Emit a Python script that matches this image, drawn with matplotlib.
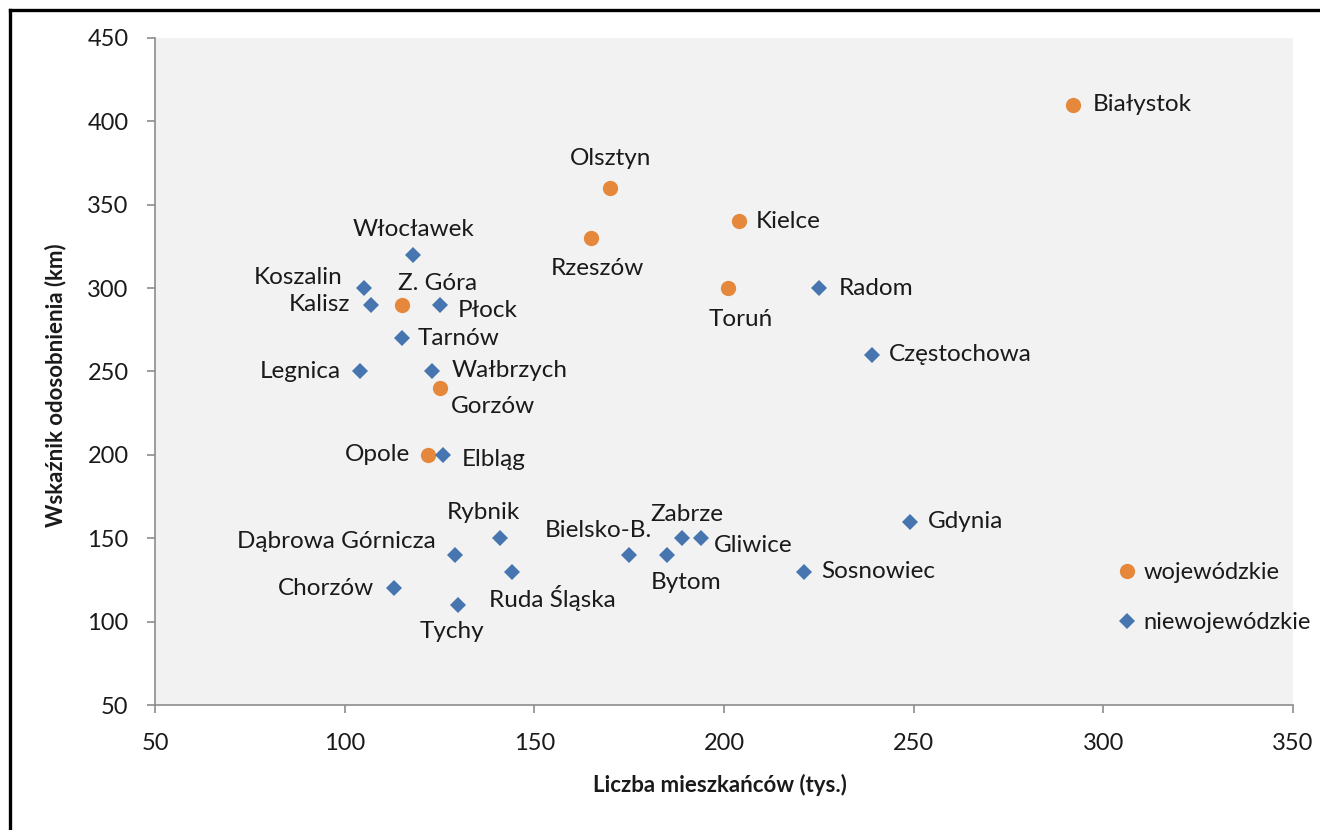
import matplotlib
matplotlib.use("Agg")
import matplotlib.pyplot as plt
from matplotlib.lines import Line2D

# miasta wojewódzkie
woj_names = ['Białystok', 'Olsztyn', 'Kielce', 'Rzeszów', 'Toruń', 'Z. Góra', 'Gorzów', 'Opole']
woj_pop = [292, 170, 204, 165, 201, 115, 125, 122]
woj_idx = [410, 360, 340, 330, 300, 290, 240, 200]

# miasta niewojewódzkie
niewoj_names = ['Włocławek', 'Koszalin', 'Kalisz', 'Płock', 'Tarnów', 'Legnica', 'Wałbrzych',
                'Elbląg', 'Rybnik', 'Dąbrowa Górnicza', 'Ruda Śląska', 'Chorzów', 'Tychy',
                'Bielsko-B.', 'Bytom', 'Zabrze', 'Gliwice', 'Sosnowiec', 'Gdynia', 'Radom',
                'Częstochowa']
niewoj_pop = [118, 105, 107, 125, 115, 104, 123, 126, 141, 129, 144, 113, 130,
              175, 185, 189, 194, 221, 249, 225, 239]
niewoj_idx = [320, 300, 290, 290, 270, 250, 250, 200, 150, 140, 130, 120, 110,
              140, 140, 150, 150, 130, 160, 300, 260]

xticks = [50, 100, 150, 200, 250, 300, 350]
yticks = [50, 100, 150, 200, 250, 300, 350, 400, 450]

# polozenie podpisow (dx, dy w pikselach, wyrownanie)
lab_pos = {
    'Białystok': (20, 0, 'left'), 'Olsztyn': (0, 30, 'center'), 'Kielce': (17, 0, 'left'),
    'Rzeszów': (6, -30, 'center'), 'Toruń': (13, -31, 'center'), 'Z. Góra': (36, 21, 'center'),
    'Gorzów': (53, -18, 'center'), 'Opole': (-18, 0, 'right'),
    'Włocławek': (1, 25, 'center'), 'Koszalin': (-21, 11, 'right'), 'Kalisz': (-21, 0, 'right'),
    'Płock': (18, -6, 'left'), 'Tarnów': (16, 0, 'left'), 'Legnica': (-19, 0, 'right'),
    'Wałbrzych': (20, 1, 'left'), 'Elbląg': (18, -5, 'left'), 'Rybnik': (-17, 26, 'center'),
    'Dąbrowa Górnicza': (-19, 13, 'right'), 'Ruda Śląska': (41, -26, 'center'),
    'Chorzów': (-20, 0, 'right'), 'Tychy': (-7, -27, 'center'), 'Bielsko-B.': (-31, 24, 'center'),
    'Bytom': (19, -28, 'center'), 'Zabrze': (5, 24, 'center'), 'Gliwice': (13, -7, 'left'),
    'Sosnowiec': (18, 0, 'left'), 'Gdynia': (18, 0, 'left'), 'Radom': (20, 0, 'left'),
    'Częstochowa': (17, 0, 'left'),
}

plt.rcParams['font.family'] = ['Lato', 'DejaVu Sans']
orange = '#E5883B'
blue = '#4675B0'
txt = '#1a1a1a'
fs = 17.5

fig = plt.figure(figsize=(13.2, 8.3), dpi=100)
ax = fig.add_axes([155/1320, 1-705/830, 1138/1320, 667/830])
ax.set_facecolor('#f2f2f2')

ax.plot(woj_pop, woj_idx, 'o', color=orange, ms=11, mew=0, label='wojewódzkie', zorder=3)
ax.plot(niewoj_pop, niewoj_idx, 'D', color=blue, ms=8, mew=0, label='niewojewódzkie', zorder=3)

for names, xs, ys in [(woj_names, woj_pop, woj_idx), (niewoj_names, niewoj_pop, niewoj_idx)]:
    for n, x, y in zip(names, xs, ys):
        dx, dy, ha = lab_pos[n]
        ax.annotate(n, (x, y), xytext=(dx, dy), textcoords='offset pixels',
                    ha=ha, va='center', fontsize=fs, color=txt)

ax.set_xlim(50, 350)
ax.set_ylim(50, 450)
ax.set_xticks(xticks)
ax.set_yticks(yticks)
for s in ['top', 'right']:
    ax.spines[s].set_visible(False)
for s in ['left', 'bottom']:
    ax.spines[s].set_color('#8c8c8c')
    ax.spines[s].set_linewidth(1.2)
ax.tick_params(axis='both', direction='out', length=6, width=1.2, color='#8c8c8c',
               labelsize=17, labelcolor=txt)
ax.tick_params(axis='y', pad=13)
ax.tick_params(axis='x', pad=14)

ax.set_xlabel('Liczba mieszkańców (tys.)', fontsize=16, fontweight='bold', color=txt)
ax.set_ylabel('Wskaźnik odosobnienia (km)', fontsize=16, fontweight='bold', color=txt)
ax.xaxis.set_label_coords(0.4965, -0.103)
ax.yaxis.set_label_coords(-0.078, 0.48)

ax.legend(loc='center left', bbox_to_anchor=(0.8455, 0.161), frameon=False,
          fontsize=17, handlelength=0.8, handletextpad=0.3, labelspacing=1.2,
          borderpad=0, borderaxespad=0, labelcolor=txt)

# ramka wokol wykresu
fig.add_artist(Line2D([10/1320, 10/1320], [1-10/830, 0], color='black', lw=2.4))
fig.add_artist(Line2D([10/1320, 1], [1-10/830, 1-10/830], color='black', lw=2.4))

fig.savefig('out.png', dpi=100)
